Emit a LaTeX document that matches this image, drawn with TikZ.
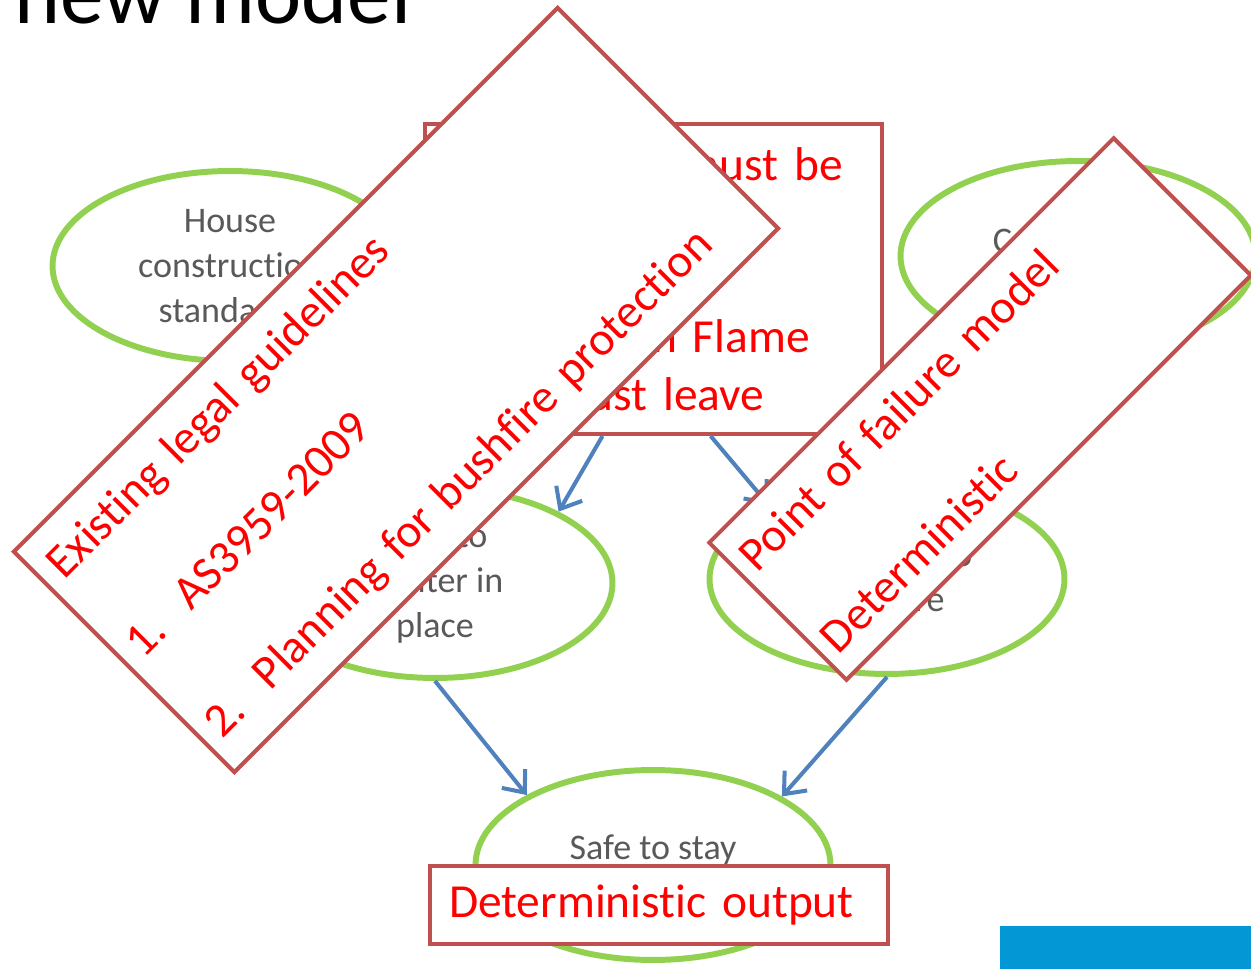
\documentclass[tikz,border=0pt]{standalone}
\usepackage{fontspec}
\setmainfont{Carlito}[Ligatures=NoCommon]
\usepackage{xcolor}
\usetikzlibrary{shapes.geometric, arrows.meta}

\definecolor{leafgreen}{HTML}{92D050}
\definecolor{brickred}{HTML}{C0504D}
\definecolor{steelblue}{HTML}{4F81BD}
\definecolor{slidegray}{HTML}{595959}
\definecolor{bandblue}{HTML}{0397D6}

\begin{document}
\begin{tikzpicture}[x=0.02cm, y=-0.02cm,
    oval/.style={ellipse, draw=leafgreen, line width=3.4pt, minimum width=7.1cm, minimum height=3.8cm,
        inner sep=0pt, align=center, text=slidegray, font=\fontsize{20.5}{25.6}\selectfont},
    note/.style={draw=brickred, line width=2.3pt, fill=white, text=red, align=left,
        font=\fontsize{27}{32.7}\selectfont},
    flow/.style={->, draw=steelblue, line width=2.3pt},
    >={Straight Barb[length=3.6mm, width=6mm]}]
    \useasboundingbox (0,0) rectangle (1251,969);
    \clip (0,0) rectangle (1251,969);

    \node[anchor=base west, inner sep=0pt, font=\fontsize{49.8}{60}\selectfont] (title) at (14,24) {new model};
    \fill[bandblue] (1000,926) rectangle (1251,969);

    % the model
    \node[oval] (house) at (230,266) {House\\construction\\standards};
    \node[oval] (community) at (1078,256) {Community\\[-14.8pt]\strut};
    \node[oval] (shelter) at (435,583) {Able to\\shelter in\\place};
    \node[oval] (leave) at (887,579) {Required to\\prepare};
    \node[oval] (safe) at (653,865) {Safe to stay\\[-12.6pt]\strut};

    \draw[flow] (shelter.south) -- (safe.151.6);
    \draw[flow] (leave.south) -- (safe.28.4);

    % notes on top
    \node[note, minimum width=9.14cm, minimum height=6.2cm, text width=8.54cm, inner xsep=0.3cm] (rule) at (653.5,279)
        {Households must be\\[65.4pt]Residents in Flame\\Zone must leave};
    \draw[flow] (rule.252.6) -- (shelter.30);
    \draw[flow] (rule.290) -- (leave.148);

    \node[note, rotate=45, minimum width=15.38cm, minimum height=6.24cm, text width=14.78cm, inner xsep=0.3cm] (legal) at (396,390)
        {Existing legal guidelines\\[31pt]\makebox[1.36cm][l]{1.}AS3959-2009\\[31pt]\makebox[1.36cm][l]{2.}Planning for bushfire protection};
    \node[note, rotate=45, minimum width=11.44cm, minimum height=3.88cm, text width=10.96cm, inner xsep=0.24cm] (failure) at (980,409)
        {Point of failure model\\[33pt]Deterministic};
    \node[note, minimum width=9.16cm, minimum height=1.56cm, text width=8.4cm, inner xsep=0.38cm] (output) at (659,905)
        {\raisebox{-2.5pt}{Deterministic output}};
\end{tikzpicture}
\end{document}
